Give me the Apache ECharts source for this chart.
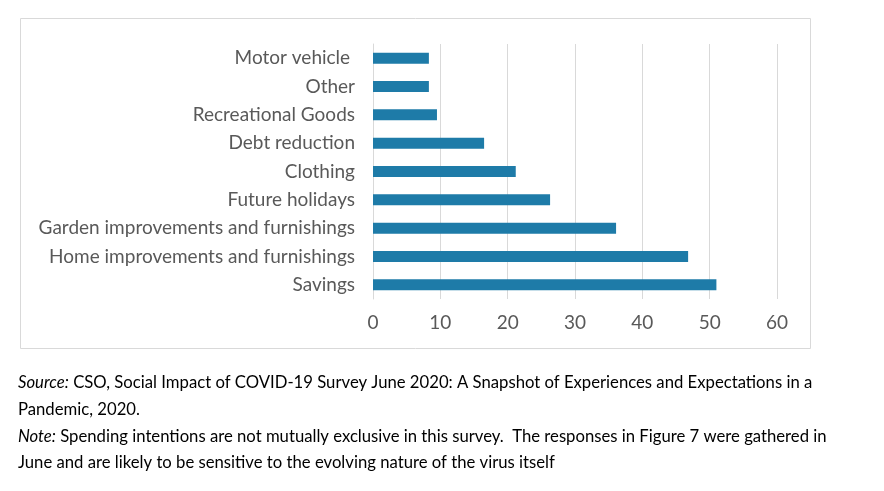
<!DOCTYPE html>
<html><head><meta charset="utf-8">
<script src="https://cdn.jsdelivr.net/npm/echarts@6/dist/echarts.min.js"></script>
<style>html,body{margin:0;background:#fff}#main{width:884px;height:491px}</style>
</head><body><div id="main"></div>
<script>
const categories = ['Savings', 'Home improvements and furnishings', 'Garden improvements and furnishings',
  'Future holidays', 'Clothing', 'Debt reduction', 'Recreational Goods', 'Other', 'Motor vehicle '];
const values = [51, 46.8, 36.1, 26.3, 21.2, 16.5, 9.5, 8.3, 8.3];
const xTicks = [0, 10, 20, 30, 40, 50, 60];

const chart = echarts.init(document.getElementById('main'));
const F = 'Lato, "Open Sans", sans-serif';
const rich = { i: { fontStyle: 'italic', fontFamily: F, fontSize: 16.7, fill: '#000' } };
const footLine = (y, text) => ({
  type: 'text', left: 18, top: y,
  style: { text: text, fontFamily: F, fontSize: 16.7, fill: '#000', rich: rich }
});
chart.setOption({
  animation: false,
  grid: { left: 373, right: 107, top: 44, bottom: 192 },
  xAxis: {
    type: 'value', min: xTicks[0], max: xTicks[xTicks.length - 1], interval: 10,
    axisLabel: { color: '#595959', fontSize: 19, fontFamily: F, margin: 14 },
    splitLine: { lineStyle: { color: '#d9d9d9' } },
    axisLine: { show: false }, axisTick: { show: false }
  },
  yAxis: {
    type: 'category', data: categories,
    axisLabel: { color: '#595959', fontSize: 19, fontFamily: F, margin: 18 },
    axisLine: { show: true, lineStyle: { color: '#d9d9d9' } }, axisTick: { show: false }
  },
  series: [{ type: 'bar', data: values, barWidth: 11, itemStyle: { color: '#1e7ba8' } }],
  graphic: [
    { type: 'rect', shape: { x: 20.5, y: 18.5, width: 790, height: 330 },
      style: { fill: 'none', stroke: '#d9d9d9', lineWidth: 1 } },
    footLine(374, '{i|Source:} CSO, Social Impact of COVID-19 Survey June 2020: A Snapshot of Experiences and Expectations in a'),
    footLine(401, 'Pandemic, 2020.'),
    footLine(428, '{i|Note:} Spending intentions are not mutually exclusive in this survey.  The responses in Figure 7 were gathered in'),
    footLine(454, 'June and are likely to be sensitive to the evolving nature of the virus itself')
  ]
});
</script></body></html>
